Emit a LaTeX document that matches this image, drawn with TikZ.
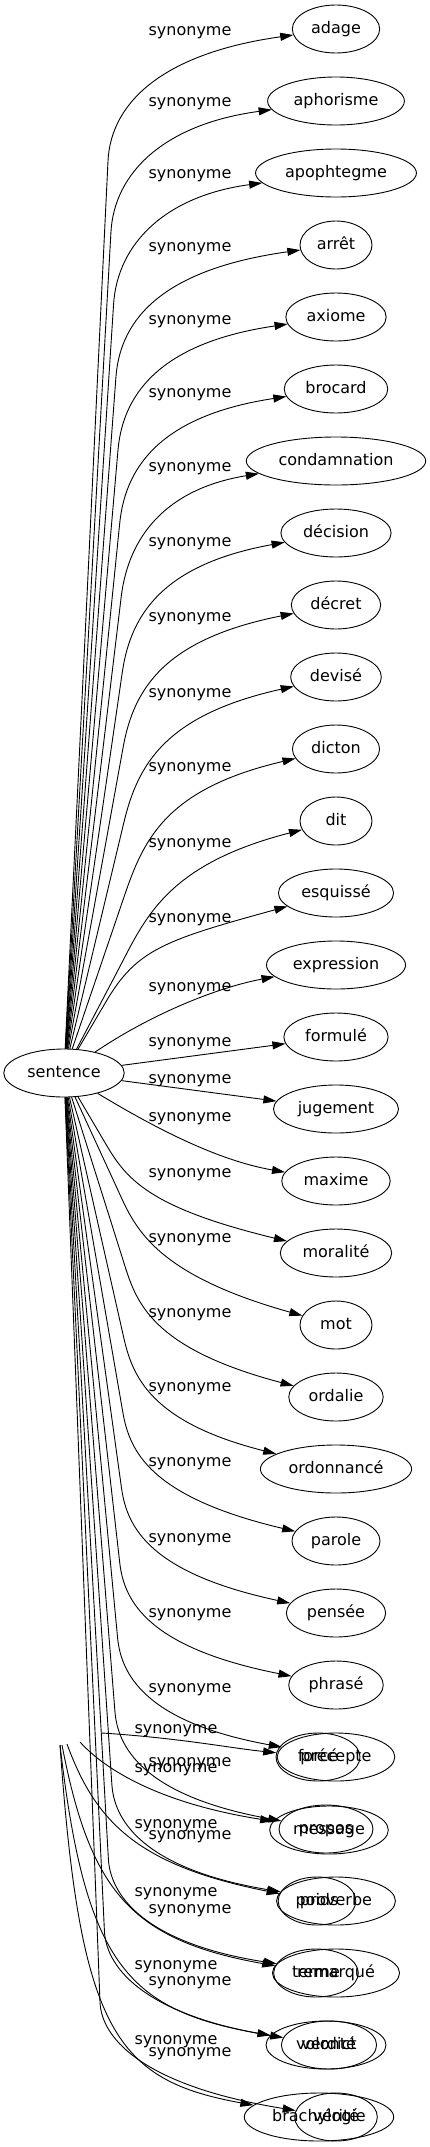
\documentclass[tikz,border=0pt]{standalone}
\usepackage{fontspec}
\setmainfont{DejaVu Sans}
\usetikzlibrary{shapes.geometric,arrows.meta,calc}

\tikzset{
  word/.style={draw, ellipse, line width=0.9pt, minimum width=72pt, minimum height=48pt,
    inner xsep=6pt, inner ysep=2pt, text height=12pt, text depth=3.5pt,
    font=\fontsize{16}{19}\selectfont},
  lbl/.style={inner sep=0pt, text height=12pt, text depth=3.5pt, font=\fontsize{16}{19}\selectfont},
  synarrow/.style={-{Triangle[length=13pt,width=8pt]}, line width=0.9pt}
}

\begin{document}
\begin{tikzpicture}[x=1pt,y=-1pt]
  \useasboundingbox (0,0) rectangle (429,2147);

  \node[word] (sentence) at (64,1073) {sentence};

  % synonym column
  \foreach \nm/\txt/\x/\y in {adage/adage/336/29, aphorisme/aphorisme/336/101,
      apophtegme/apophtegme/336/173, arret/arrêt/336/245, axiome/axiome/336/317,
      brocard/brocard/336/389, condamnation/condamnation/336/461,
      decision/décision/336/533, decret/décret/336/605, devise/devisé/336/677,
      dicton/dicton/336/749, dit/dit/336/821, esquisse/esquissé/336/893,
      expression/expression/336/965, formule/formulé/336/1037,
      jugement/jugement/336/1109, maxime/maxime/336/1181, moralite/moralité/336/1253,
      mot/mot/336/1325, ordalie/ordalie/336/1397, ordonnance/ordonnancé/336/1469,
      parole/parole/336/1541, pensee/pensée/336/1613, phrase/phrasé/336/1685,
      precepte/précepte/336/1757, propos/propos/326/1829, proverbe/proverbe/336/1901,
      remarque/remarqué/336/1973, verdict/verdict/329/2045, verite/vérité/336/2117}
    \node[word] (\nm) at (\x,\y) {\txt};

  % second set, drawn over the last slots
  \node[word, minimum width=84pt] (force) at (318,1757) {forcé};
  \node[word] (message) at (329,1830) {message};
  \node[word] (poids) at (317,1901) {poids};
  \node[word] (terme) at (316,1973) {terme};
  \node[word, minimum width=120pt] (volonte) at (326,2045) {volonté};
  \node[word] (brachylogie) at (319,2117) {brachylogie};

  % edges going up
  \foreach \nm/\y/\ly in {adage/29/31, aphorisme/101/102, apophtegme/173/174,
      arret/245/247, axiome/317/320, brocard/389/393, condamnation/461/467,
      decision/533/542, decret/605/617, devise/677/693, dicton/749/767,
      dit/821/843, esquisse/893/918} {
    \pgfmathsetmacro\D{1073-\y}
    \pgfmathsetmacro\xv{\D>=300 ? 124-16*((\D-300)/744)^2 : 80+\D/300*44}
    \pgfmathsetmacro\vy{min(\ly+130,\y+0.6*\D)}
    \draw[synarrow] (sentence) -- (\xv,\vy)
      .. controls ($(\xv,\vy)!-60pt!(sentence)$) and (165,\ly+22) .. (\nm);
    \node[lbl] (l-\nm) at (190,\ly) {synonyme};
  }

  % edges near the middle
  \draw[synarrow] (sentence) .. controls (150,1015) and (215,988) .. (expression);
  \draw[synarrow] (sentence) -- (formule);
  \draw[synarrow] (sentence) -- (jugement);
  \draw[synarrow] (sentence) .. controls (150,1125) and (215,1160) .. (maxime);
  \node[lbl] (l-expression) at (190,987) {synonyme};
  \node[lbl] (l-formule) at (190,1042) {synonyme};
  \node[lbl] (l-jugement) at (190,1079) {synonyme};
  \node[lbl] (l-maxime) at (190,1117) {synonyme};

  % edges going down
  \foreach \nm/\y/\ly in {moralite/1253/1173, mot/1325/1238, ordalie/1397/1313,
      ordonnance/1469/1387, parole/1541/1462, pensee/1613/1538, phrase/1685/1613,
      precepte/1757/1688, propos/1829/1762, proverbe/1901/1835,
      remarque/1973/1909, verdict/2045/1981, verite/2117/2052} {
    \pgfmathsetmacro\D{\y-1073}
    \pgfmathsetmacro\xv{\D>=300 ? 124-24*((\D-300)/744)^2 : 80+\D/300*44}
    \pgfmathsetmacro\vy{max(\ly-50,\y-0.6*\D)}
    \draw[synarrow] (sentence) -- (\xv,\vy)
      .. controls ($(\xv,\vy)!-40pt!(sentence)$) and (150,\ly+35) .. (\nm);
    \node[lbl] (l-\nm) at (190,\ly) {synonyme};
  }

  % loose ends of the second set
  \coordinate (s1) at (102,1733);
  \coordinate (s2) at (80,1742);
  \coordinate (s3) at (67,1744);
  \coordinate (s4) at (62,1745);
  \coordinate (s5) at (60,1745);

  \draw[synarrow] (s1) .. controls (180,1738) and (230,1748) .. (force);
  \draw[synarrow] (s2) .. controls (110,1775) and (170,1805) .. (message);
  \draw[synarrow] (s3) .. controls (95,1820) and (135,1865) .. (poids);
  \draw[synarrow] (s4) .. controls (90,1890) and (130,1940) .. (terme);
  \draw[synarrow] (s5) .. controls (85,1960) and (125,2010) .. (volonte);
  \draw[synarrow] (s5) .. controls (80,2030) and (115,2080) .. (brachylogie);

  \node[lbl] (l2-force) at (176,1729) {synonyme};
  \node[lbl] (l2-message) at (176,1768) {synonyme};
  \node[lbl] (l2-poids) at (176,1824) {synonyme};
  \node[lbl] (l2-terme) at (176,1892) {synonyme};
  \node[lbl] (l2-volonte) at (176,1965) {synonyme};
  \node[lbl] (l2-brachylogie) at (176,2040) {synonyme};
\end{tikzpicture}
\end{document}
